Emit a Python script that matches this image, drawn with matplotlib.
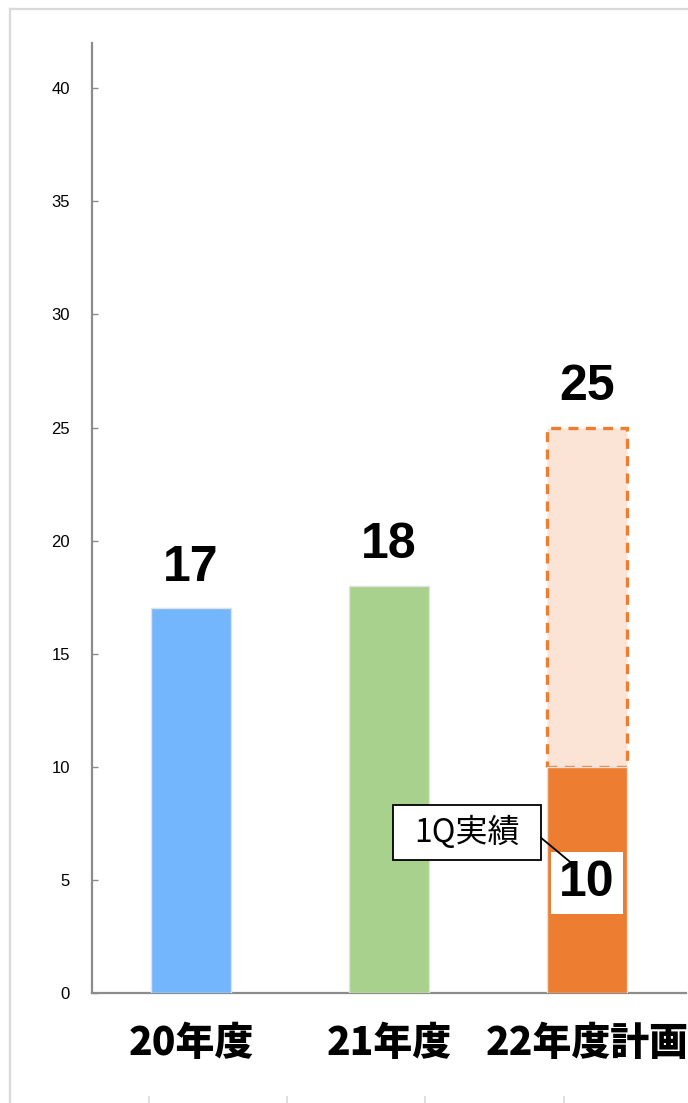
import matplotlib as mpl
import matplotlib.pyplot as plt
from matplotlib.lines import Line2D
from matplotlib.patches import Rectangle

# data
categories = ['20年度', '21年度', '22年度計画']
actual = [17, 18, 10]
plan_total = 25
bar_colors = ['#74b6fd', '#a9d18e', '#ed7d31']
value_labels = ['17', '18', '25']

mpl.rcParams['font.family'] = ['Liberation Sans', 'DejaVu Sans']

fig = plt.figure(figsize=(6.88, 11.03), dpi=100)
fig.patch.set_facecolor('white')
ax = fig.add_axes([92/688, 1 - 993/1103, 594/688, (993 - 43)/1103])

x = list(range(len(categories)))
w = 0.40

# plan part (dashed) for 22
ax.bar(2, plan_total - actual[2], bottom=actual[2], width=w, color='#fbe4d5',
       edgecolor='#ed7d31', linewidth=2.4, linestyle=(0, (3, 2.2)), zorder=2)
# actual bars
ax.bar(x, actual, width=w, color=bar_colors, edgecolor='#e2e2e2', linewidth=1.0, zorder=3)

# value labels
tops = [actual[0], actual[1], plan_total]
for i, (t, lab) in enumerate(zip(tops, value_labels)):
    ax.text(i, t + 1.8, lab, ha='center', va='center', fontsize=36, fontweight='bold')

# 10 label in white box
ax.text(2, 4.85, '10', ha='center', va='center', fontsize=36, fontweight='bold', zorder=5,
        bbox=dict(boxstyle='square,pad=0.16', facecolor='white', edgecolor='none'))

# callout box with leader line
ax.add_patch(Rectangle((1.02, 5.885), 0.748, 2.435, facecolor='white', edgecolor='black',
                       linewidth=1.3, zorder=6))
ax.text(1.394, 7.1, '1Q実績', ha='center', va='center', fontsize=23, zorder=7,
        family=['Noto Sans CJK JP', 'DejaVu Sans'])
ax.plot([1.768, 1.914], [6.86, 5.8], color='black', linewidth=1.3, zorder=6)

ax.set_xlim(-0.5, 2.5)
ax.set_ylim(0, 42)
ax.set_yticks(range(0, 41, 5))
ax.set_xticks(x)
ax.set_xticklabels(categories, fontsize=28, fontweight='heavy',
                   family=['Noto Sans CJK JP', 'DejaVu Sans'])
ax.tick_params(axis='x', length=0, pad=22)
ax.tick_params(axis='y', direction='in', length=4, width=1, color='#8c8c8c',
               labelsize=12, pad=16)

for s in ['top', 'right']:
    ax.spines[s].set_visible(False)
for s in ['left', 'bottom']:
    ax.spines[s].set_color('#8c8c8c')
    ax.spines[s].set_linewidth(1.6)

# sheet frame lines
fig.add_artist(Line2D([10/688, 1], [1 - 9/1103, 1 - 9/1103], color='#d9d9d9', linewidth=1.6))
fig.add_artist(Line2D([10/688, 10/688], [0, 1 - 9/1103], color='#d9d9d9', linewidth=1.6))
for px in [149, 287, 425, 564]:
    fig.add_artist(Line2D([px/688, px/688], [0, 6/1103], color='#d9d9d9', linewidth=1.2))

fig.savefig('out.png', dpi=100)
